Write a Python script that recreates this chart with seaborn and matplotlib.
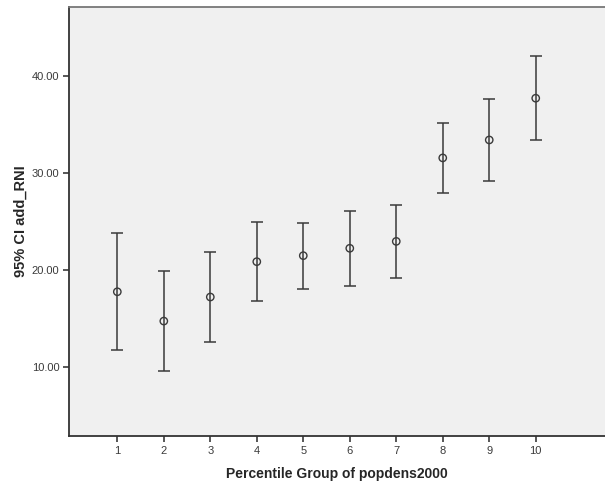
import pandas as pd
import matplotlib
matplotlib.use("Agg")
import matplotlib.pyplot as plt
import seaborn as sns

groups = [1, 2, 3, 4, 5, 6, 7, 8, 9, 10]
means = [17.76, 14.74, 17.22, 20.86, 21.48, 22.24, 22.95, 31.55, 33.40, 37.70]
lower = [11.72, 9.59, 12.61, 16.84, 18.07, 18.35, 19.21, 27.94, 29.14, 33.40]
upper = [23.85, 19.90, 21.82, 24.92, 24.88, 26.11, 26.73, 35.12, 37.63, 42.03]
yticks = [10, 20, 30, 40]

df = pd.DataFrame({"group": groups, "mean": means, "lo": lower, "hi": upper})

sns.set_style("ticks")
plt.rcParams['font.family'] = ['Liberation Sans', 'DejaVu Sans']

fig = plt.figure(figsize=(6.05, 4.87), dpi=100)
ax = fig.add_axes([0.114, 0.1047, 0.886, 0.881])
ax.set_facecolor("#f0f0f0")

# CI whiskers, then the open-circle means on top
ax.errorbar(df["group"], df["mean"],
            yerr=[df["mean"] - df["lo"], df["hi"] - df["mean"]],
            fmt="none", ecolor="#3a3a3a", elinewidth=1.1, capsize=4.4, capthick=1.1)
sns.scatterplot(data=df, x="group", y="mean", ax=ax, marker="o", s=28,
                facecolor="none", edgecolor="#3a3a3a", linewidth=1.0, zorder=3)

ax.set_xlim(-0.04, 11.49)
ax.set_ylim(2.9, 47.1)
ax.set_xticks(groups)
ax.set_xticklabels([str(g) for g in groups])
ax.set_yticks(yticks)
ax.set_yticklabels([f"{v:.2f}" for v in yticks])
ax.tick_params(axis="both", labelsize=8, colors="#3a3a3a", length=4, width=1.2, pad=3)

for s in ["left", "bottom"]:
    ax.spines[s].set_color("#333333")
    ax.spines[s].set_linewidth(1.3)
ax.spines["top"].set_color("#777777")
ax.spines["top"].set_linewidth(1.3)
ax.spines["right"].set_visible(False)

ax.set_xlabel("Percentile Group of popdens2000", fontsize=10, fontweight="bold", labelpad=8)
ax.set_ylabel("95% CI add_RNI", fontsize=10.5, fontweight="bold", labelpad=3)

fig.savefig("out.png", dpi=100)
